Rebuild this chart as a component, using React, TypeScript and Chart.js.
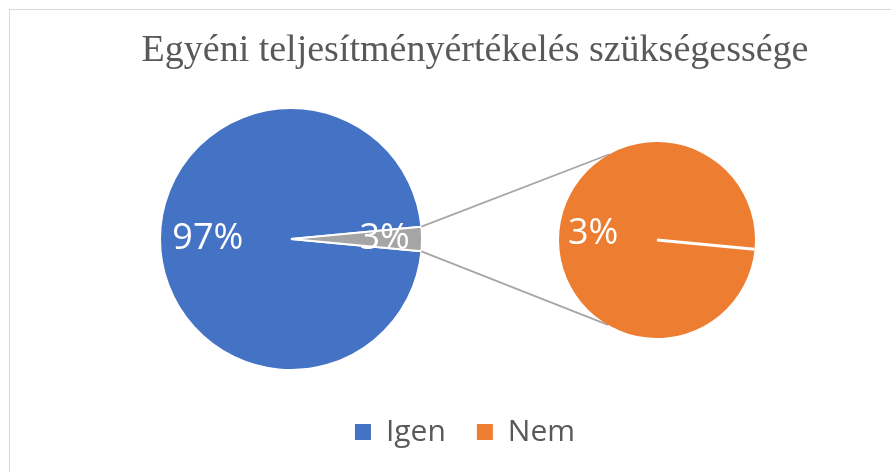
import React, { useEffect, useRef } from "react";
import { Chart, registerables } from "chart.js";

Chart.register(...registerables);

// ---- data ----
const TITLE = "Egyéni teljesítményértékelés szükségessége";
const categories = ["Igen", "Nem"];
const values = [97, 3];
const seriesColors = ["#4472C4", "#ED7D31"];
const OTHER_COLOR = "#A5A5A5";
const SECONDARY_COUNT = 1; // last N categories are split into the secondary pie

const primaryCats = categories.slice(0, categories.length - SECONDARY_COUNT);
const secondaryCats = categories.slice(categories.length - SECONDARY_COUNT);
const primaryVals = values.slice(0, values.length - SECONDARY_COUNT);
const secondaryVals = values.slice(values.length - SECONDARY_COUNT);
const otherTotal = secondaryVals.reduce((a, b) => a + b, 0);
const grandTotal = values.reduce((a, b) => a + b, 0);

// ---- layout / style ----
const W = 950;
const H = 472;
const MAIN = { cx: 291, cy: 239, r: 131 };
const SEC = { cx: 657, cy: 240, r: 98 };
const ROTATION = 90 + (otherTotal / grandTotal) * 180; // degrees, other slice centred at 3 o'clock
const MAIN_LABEL_FRAC = [0.635, 0.715];
const SEC_LABEL_FRAC = [0.655];
const CONNECT_ANGLES = [-119, 120];
const LABEL_FONT = "36px 'Open Sans'";
const TEXT_GREY = "#595959";

function areaPlugin(id: string, g: { cx: number; cy: number; r: number }, legendShift = 0) {
  return {
    id,
    afterLayout(chart: any) {
      chart.chartArea = {
        left: g.cx - g.r,
        top: g.cy - g.r,
        right: g.cx + g.r,
        bottom: g.cy + g.r,
        width: 2 * g.r,
        height: 2 * g.r,
      };
      if (legendShift && chart.legend) {
        chart.legend.left += legendShift;
        chart.legend.right += legendShift;
      }
    },
  };
}

function labelPlugin(id: string, vals: number[], fracs: number[]) {
  return {
    id,
    afterDatasetsDraw(chart: any) {
      const meta = chart.getDatasetMeta(0);
      const ctx = chart.ctx;
      ctx.save();
      ctx.font = LABEL_FONT;
      ctx.fillStyle = "#ffffff";
      ctx.textAlign = "center";
      ctx.textBaseline = "middle";
      meta.data.forEach((arc: any, i: number) => {
        const p = arc.getProps(["x", "y", "startAngle", "endAngle", "outerRadius"], true);
        const mid = (p.startAngle + p.endAngle) / 2;
        const rr = p.outerRadius * fracs[i];
        const txt = Math.round((vals[i] / grandTotal) * 100) + "%";
        ctx.fillText(txt, p.x + Math.cos(mid) * rr, p.y + Math.sin(mid) * rr);
      });
      ctx.restore();
    },
  };
}

export default function App() {
  const mainRef = useRef<HTMLCanvasElement | null>(null);
  const secRef = useRef<HTMLCanvasElement | null>(null);

  useEffect(() => {
    if (!mainRef.current || !secRef.current) return;

    const mainChart = new Chart(mainRef.current, {
      type: "pie",
      data: {
        labels: [...primaryCats, "Egyéb"],
        datasets: [
          {
            data: [...primaryVals, otherTotal],
            backgroundColor: [...seriesColors.slice(0, primaryCats.length), OTHER_COLOR],
            borderColor: "#ffffff",
            borderWidth: 2,
            rotation: ROTATION,
            radius: MAIN.r,
            clip: false,
          } as any,
        ],
      },
      options: {
        responsive: false,
        animation: false,
        events: [],
        layout: { padding: { top: 0, bottom: 15, left: 0, right: 0 } },
        plugins: {
          title: {
            display: true,
            text: TITLE,
            color: TEXT_GREY,
            font: { family: "'Liberation Serif', 'Times New Roman', serif", size: 38, weight: "normal" },
            padding: { top: 28, bottom: 10 },
          },
          legend: {
            display: true,
            position: "bottom",
            onClick: () => {},
            labels: {
              color: TEXT_GREY,
              font: { family: "'Open Sans'", size: 30 },
              boxWidth: 16,
              boxHeight: 16,
              padding: 31,
              generateLabels: () =>
                categories.map((c, i) => ({
                  text: c,
                  fillStyle: seriesColors[i],
                  strokeStyle: seriesColors[i],
                  lineWidth: 0,
                  hidden: false,
                  index: i,
                  datasetIndex: 0,
                  fontColor: TEXT_GREY,
                })),
            },
          },
          tooltip: { enabled: false },
        },
      } as any,
      plugins: [areaPlugin("mainArea", MAIN, -10), labelPlugin("mainLabels", [...primaryVals, otherTotal], MAIN_LABEL_FRAC)],
    });

    const connectorPlugin = {
      id: "connectors",
      beforeDatasetsDraw(chart: any) {
        const mArc: any = mainChart.getDatasetMeta(0).data[primaryCats.length];
        if (!mArc) return;
        const m = mArc.getProps(["x", "y", "startAngle", "endAngle", "outerRadius"], true);
        const sArc: any = chart.getDatasetMeta(0).data[0];
        const s = sArc.getProps(["x", "y", "outerRadius"], true);
        const ctx = chart.ctx;
        ctx.save();
        ctx.strokeStyle = "#A6A6A6";
        ctx.lineWidth = 1.75;
        [m.startAngle, m.endAngle].forEach((a: number, i: number) => {
          const b = (CONNECT_ANGLES[i] * Math.PI) / 180;
          ctx.beginPath();
          ctx.moveTo(m.x + Math.cos(a) * m.outerRadius, m.y + Math.sin(a) * m.outerRadius);
          ctx.lineTo(s.x + Math.cos(b) * s.outerRadius, s.y + Math.sin(b) * s.outerRadius);
          ctx.stroke();
        });
        ctx.restore();
      },
      afterDatasetsDraw(chart: any) {
        const ctx = chart.ctx;
        const arcs = chart.getDatasetMeta(0).data;
        ctx.save();
        ctx.strokeStyle = "#ffffff";
        ctx.lineWidth = 3;
        arcs.forEach((arc: any) => {
          const p = arc.getProps(["x", "y", "startAngle", "outerRadius"], true);
          ctx.beginPath();
          ctx.moveTo(p.x, p.y);
          ctx.lineTo(p.x + Math.cos(p.startAngle) * p.outerRadius, p.y + Math.sin(p.startAngle) * p.outerRadius);
          ctx.stroke();
        });
        ctx.restore();
      },
    };

    const secChart = new Chart(secRef.current, {
      type: "pie",
      data: {
        labels: secondaryCats,
        datasets: [
          {
            data: secondaryVals,
            backgroundColor: seriesColors.slice(primaryCats.length),
            borderWidth: 0,
            rotation: ROTATION,
            radius: SEC.r,
            clip: false,
          } as any,
        ],
      },
      options: {
        responsive: false,
        animation: false,
        events: [],
        plugins: {
          title: { display: false },
          legend: { display: false },
          tooltip: { enabled: false },
        },
      } as any,
      plugins: [areaPlugin("secArea", SEC), connectorPlugin, labelPlugin("secLabels", secondaryVals, SEC_LABEL_FRAC)],
    });

    return () => {
      secChart.destroy();
      mainChart.destroy();
    };
  }, []);

  return (
    <div
      style={{
        position: "fixed",
        left: 0,
        top: 0,
        width: 891,
        height: 472,
        overflow: "hidden",
        background: "#ffffff",
      }}
    >
      <div
        style={{
          position: "absolute",
          left: 9,
          top: 9,
          width: 1000,
          height: 600,
          border: "1px solid #d9d9d9",
        }}
      />
      <canvas
        ref={mainRef}
        width={W}
        height={H}
        style={{ position: "absolute", left: 0, top: 0, width: W, height: H }}
      />
      <canvas
        ref={secRef}
        width={W}
        height={H}
        style={{ position: "absolute", left: 0, top: 0, width: W, height: H }}
      />
    </div>
  );
}
